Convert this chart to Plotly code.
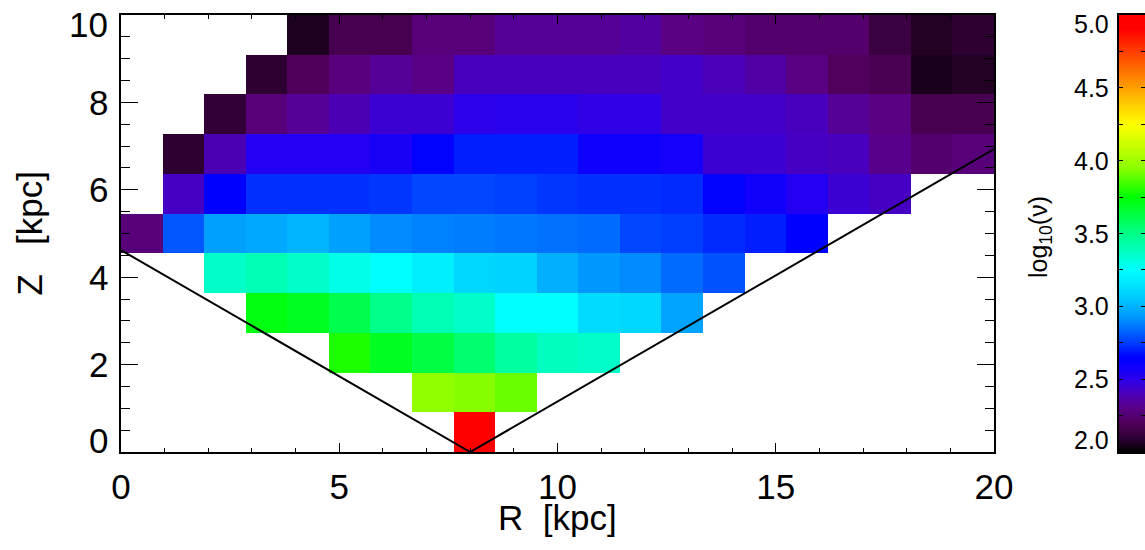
import numpy as np
import plotly.graph_objects as go

# ---------------- data ----------------
N = None
# bin edges of the 21 x 11 image (R in kpc, Z in kpc)
R_edges = list(np.linspace(0.0, 20.0, 22))
Z_edges = list(np.linspace(0.0, 10.0, 12))

# log10(nu) per cell, rows from Z=0 (bottom) to Z=10 (top), columns R=0..20
row_z0 = [N, N, N, N, N, N, N, N, 4.95, N, N, N, N, N, N, N, N, N, N, N, N]
row_z1 = [N, N, N, N, N, N, N, 3.96, 3.94, 3.90, N, N, N, N, N, N, N, N, N, N, N]
row_z2 = [N, N, N, N, N, 3.79, 3.69, 3.63, 3.55, 3.44, 3.38, 3.36, N, N, N, N, N, N, N, N, N]
row_z3 = [N, N, N, 3.72, 3.69, 3.61, 3.49, 3.40, 3.36, 3.25, 3.25, 3.12, 3.10, 2.96, N, N, N, N, N, N, N]
row_z4 = [N, N, 3.36, 3.40, 3.36, 3.30, 3.25, 3.19, 3.10, 3.09, 2.99, 2.93, 2.90, 2.84, 2.79, N, N, N, N, N, N]
row_z5 = [2.27, 2.80, 2.95, 2.97, 3.00, 2.95, 2.90, 2.88, 2.87, 2.86, 2.85, 2.84, 2.77, 2.755, 2.72, 2.70, 2.65, N, N, N, N]
row_z6 = [N, 2.42, 2.65, 2.73, 2.73, 2.73, 2.74, 2.77, 2.77, 2.76, 2.74, 2.73, 2.73, 2.72, 2.64, 2.58, 2.53, 2.45, 2.42, N, N]
row_z7 = [N, 2.09, 2.39, 2.53, 2.53, 2.53, 2.56, 2.64, 2.70, 2.70, 2.70, 2.59, 2.59, 2.57, 2.45, 2.45, 2.42, 2.41, 2.31, 2.24, 2.27]
row_z8 = [N, N, 2.10, 2.27, 2.33, 2.39, 2.45, 2.45, 2.50, 2.51, 2.51, 2.49, 2.49, 2.43, 2.43, 2.43, 2.41, 2.33, 2.29, 2.17, 2.17]
row_z9 = [N, N, N, 2.09, 2.20, 2.28, 2.33, 2.30, 2.41, 2.41, 2.41, 2.41, 2.41, 2.43, 2.40, 2.36, 2.29, 2.21, 2.18, 2.05, 2.07]
row_z10 = [N, N, N, N, 2.06, 2.17, 2.17, 2.27, 2.27, 2.33, 2.33, 2.33, 2.35, 2.29, 2.27, 2.24, 2.24, 2.24, 2.13, 2.07, 2.09]
grid = [row_z0, row_z1, row_z2, row_z3, row_z4, row_z5, row_z6, row_z7, row_z8, row_z9, row_z10]

# 30-degree cone lines from the Sun at R=8 kpc
cone_R = [0.0, 8.0, 20.0]
cone_Z = [4.62, 0.0, 6.93]

x_ticks = [0, 5, 10, 15, 20]
y_ticks = [0, 2, 4, 6, 8, 10]
y_ticktext = ["0", "2", "4", "6", "8", "10"]
cb_ticks = [2.0, 2.5, 3.0, 3.5, 4.0, 4.5, 5.0]
cb_ticktext = ["2.0", "2.5", "3.0", "3.5", "4.0", "4.5", "5.0"]

VMIN, VMAX = 2.0, 5.0
# colour table (value, rgb) approximating the IDL rainbow table
cmap_vals = [2.00, 2.10, 2.20, 2.30, 2.40, 2.50, 2.60, 2.65, 2.75, 2.90, 3.00, 3.10,
             3.25, 3.40, 3.55, 3.75, 3.95, 4.25, 4.50, 4.75, 4.90, 5.00]
cmap_rgb = [(0, 0, 0), (50, 0, 55), (80, 0, 90), (90, 0, 135), (75, 0, 185), (45, 0, 235),
            (10, 0, 255), (0, 0, 255), (0, 60, 255), (0, 140, 255), (0, 180, 255), (0, 215, 255),
            (0, 255, 255), (0, 255, 180), (0, 255, 110), (0, 255, 0), (140, 255, 0), (255, 255, 0),
            (255, 160, 0), (255, 60, 0), (255, 0, 0), (255, 0, 0)]
colorscale = [[(v - VMIN) / (VMAX - VMIN), "rgb(%d,%d,%d)" % c] for v, c in zip(cmap_vals, cmap_rgb)]

# ---------------- figure ----------------
FONT = "Liberation Sans, Arial, Helvetica, sans-serif"
W, H = 1145, 550
ML, MR, MT, MB = 121, 0, 15, 98
plot_w = 994 - ML
paper_w = W - ML - MR
plot_h = H - MT - MB
x_dom = [0, plot_w / paper_w]
cb_dom = [(1119 - ML) / paper_w, 1.0]

fig = go.Figure()
fig.add_trace(go.Heatmap(x=R_edges, y=Z_edges, z=grid, zmin=VMIN, zmax=VMAX,
                         colorscale=colorscale, showscale=False, hoverongaps=False,
                         xaxis="x", yaxis="y"))
fig.add_trace(go.Scatter(x=cone_R, y=cone_Z, mode="lines", line=dict(color="black", width=2),
                         showlegend=False, xaxis="x", yaxis="y", cliponaxis=True))

# colour bar drawn as its own gradient image
cb_edges = list(np.linspace(VMIN, VMAX, 302))
cb_levels = [(a + b) / 2 for a, b in zip(cb_edges[:-1], cb_edges[1:])]
fig.add_trace(go.Heatmap(x=[0, 1], y=cb_edges, z=[[v] for v in cb_levels], zmin=VMIN, zmax=VMAX,
                         colorscale=colorscale, showscale=False, xaxis="x2", yaxis="y2",
                         hoverinfo="skip"))

line_common = dict(showline=True, linecolor="black", linewidth=1.5, showgrid=False,
                   zeroline=False, tickcolor="black", tickwidth=1.2, automargin=False)

fig.update_layout(
    width=W, height=H,
    margin=dict(l=ML, r=MR, t=MT, b=MB, pad=0, autoexpand=False),
    paper_bgcolor="white", plot_bgcolor="white",
    showlegend=False,
    xaxis=dict(domain=x_dom, range=[0, 20], tickvals=x_ticks, ticks="inside", ticklen=9,
               minor=dict(dtick=1, ticks="inside", ticklen=4, tickcolor="black", tickwidth=1.2),
               mirror="allticks", ticklabelstandoff=3, anchor="y",
               tickfont=dict(family=FONT, size=35, color="black"), **line_common),
    yaxis=dict(domain=[0, 1], range=[0, 10], tickvals=y_ticks, ticks="inside", ticklen=17,
               minor=dict(dtick=0.5, ticks="inside", ticklen=9, tickcolor="black", tickwidth=1.2),
               mirror="allticks", showticklabels=False, anchor="x", **line_common),
    xaxis2=dict(domain=cb_dom, range=[0, 1], showticklabels=False, ticks="", mirror=True,
                anchor="y2", **line_common),
    yaxis2=dict(domain=[0, 1], range=[VMIN, VMAX], tickvals=cb_ticks, ticks="inside", ticklen=4,
                minor=dict(dtick=0.25, ticks="inside", ticklen=4, tickcolor="black"),
                showticklabels=False, anchor="x2", side="left", mirror="allticks",
                **line_common),
)

# y tick labels (end labels nudged inward as in the reference)
for v, t in zip(y_ticks, y_ticktext):
    shift = -9 if v == y_ticks[-1] else (12 if v == y_ticks[0] else 0)
    fig.add_annotation(text=t, xref="paper", yref="y", x=(110 - ML) / paper_w, y=v,
                       xanchor="right", yanchor="middle", yshift=shift, showarrow=False,
                       font=dict(family=FONT, size=35, color="black"))

# colour-bar tick labels
for v, t in zip(cb_ticks, cb_ticktext):
    shift = -9 if v == cb_ticks[-1] else (12 if v == cb_ticks[0] else 0)
    fig.add_annotation(text=t, xref="paper", yref="y2", x=(1111 - ML) / paper_w, y=v,
                       xanchor="right", yanchor="middle", yshift=shift, showarrow=False,
                       font=dict(family=FONT, size=25, color="black"))

fig.add_annotation(text="R\u00a0\u00a0[kpc]", xref="paper", yref="paper",
                   x=x_dom[1] / 2, y=(452 - 517) / plot_h, xanchor="center", yanchor="middle",
                   showarrow=False, font=dict(family=FONT, size=35, color="black"))
fig.add_annotation(text="Z\u00a0\u00a0\u00a0[kpc]", xref="paper", yref="paper",
                   x=(29 - ML) / paper_w, y=0.5, xanchor="center", yanchor="middle", textangle=-90,
                   showarrow=False, font=dict(family=FONT, size=35, color="black"))
fig.add_annotation(text="log<sub>10</sub>(\u03bd)", xref="paper", yref="paper",
                   x=(1040 - ML) / paper_w, y=(452 - 237) / plot_h, xanchor="center",
                   yanchor="middle", textangle=-90,
                   showarrow=False, font=dict(family=FONT, size=25, color="black"))

fig.write_html("out.html")
